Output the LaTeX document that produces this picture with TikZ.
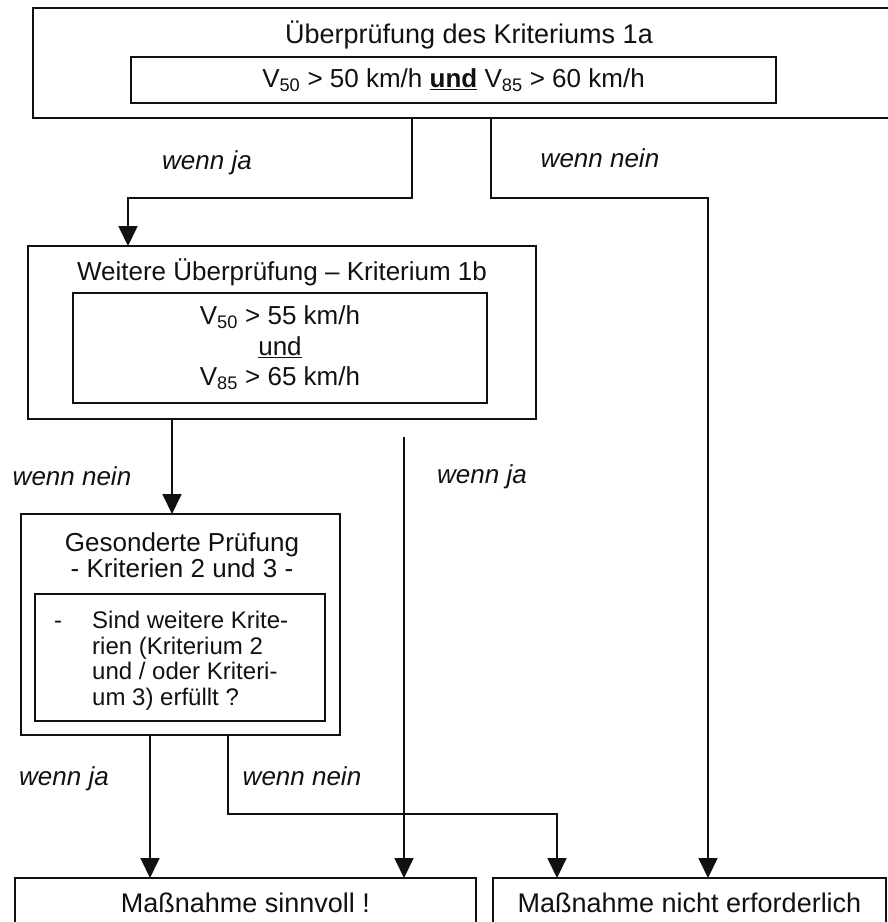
\documentclass[tikz,border=0pt]{standalone}
\usepackage{fontspec}
\setmainfont{Liberation Sans}
\usetikzlibrary{arrows.meta,positioning}
\definecolor{ink}{HTML}{111111}
\tikzset{
  >={Triangle[width=19pt,length=20pt]},
  every node/.style={text=ink},
  boxframe/.style={draw=ink,line width=1.4pt,inner sep=0pt,outer sep=0pt},
  outerbox/.style={boxframe},
  innerbox/.style={boxframe,align=center,font=\fontsize{26}{30.5}\selectfont},
  headtext/.style={align=center,inner sep=0pt,font=\fontsize{26}{26}\selectfont},
  endbox/.style={boxframe,font=\fontsize{27}{30}\selectfont},
  flow/.style={->,line width=1.8pt,draw=ink},
  branch/.style={font=\itshape\fontsize{26}{30}\selectfont,inner sep=0pt},
}

\begin{document}
\begin{tikzpicture}[x=1pt,y=-1pt]
\useasboundingbox (0,0) rectangle (888,922);
\clip (0,0) rectangle (888,922);

\node[outerbox,minimum width=862,minimum height=110] (crit1a) at (464,63) {};
\node[headtext,font=\fontsize{27}{30}\selectfont] (crit1ahead) at (469,35) {Überprüfung des Kriteriums 1a};
\node[innerbox,minimum width=645,minimum height=46] (crit1acond) at (453.5,80) {V\textsubscript{50} > 50 km/h \underline{\textbf{und}} V\textsubscript{85} > 60 km/h};

\node[outerbox,minimum width=508,minimum height=173] (crit1b) at (282,332.5) {};
\node[headtext] (crit1bhead) at (282,272) {Weitere Überprüfung – Kriterium 1b};
\node[innerbox,minimum width=414,minimum height=110] (crit1bcond) at (280,348) {V\textsubscript{50} > 55 km/h\\\underline{und}\\V\textsubscript{85} > 65 km/h};

\node[outerbox,minimum width=319,minimum height=221] (crit23) at (180.5,624.5) {};
\node[headtext] (crit23head) at (182,555) {Gesonderte Prüfung\\- Kriterien 2 und 3 -};
\node[innerbox,minimum width=290,minimum height=127] (crit23cond) at (180,657.5) {};
\node[anchor=west,inner sep=0pt,font=\fontsize{24}{25.5}\selectfont] (crit23text) at (54,662)
  {\begin{tabular}{@{}l@{\hspace{30pt}}l@{}}-&Sind weitere Krite-\\&rien (Kriterium 2\\&und / oder Kriteri-\\&um 3) erfüllt ?\end{tabular}};

\node[endbox,minimum width=461,minimum height=50] (worth) at (245.5,903) {Maßnahme sinnvoll !};
\node[endbox,minimum width=393,minimum height=50] (notneeded) at (689.5,903) {Maßnahme nicht erforderlich};

\coordinate (jaTopR) at (412,198);
\coordinate (jaTopL) at (128,198);
\coordinate (neinTopL) at (491,198);
\coordinate (neinTopR) at (708,198);
\coordinate (neinMid) at (172,470);
\coordinate (jaMid) at (404,470);
\coordinate (jaLow) at (150,800);
\coordinate (neinLowL) at (228,814);
\coordinate (neinLowR) at (557,814);

\draw[flow] (crit1a.south -| jaTopR) -- (jaTopR) -- (jaTopL) -- (crit1b.north -| jaTopL);
\draw[flow] (crit1a.south -| neinTopL) -- (neinTopL) -- (neinTopR) -- (notneeded.north -| neinTopR);
\draw[flow] (crit1b.south -| neinMid) -- (crit23.north -| neinMid);
\draw[flow,shorten <=18pt] (crit1b.south -| jaMid) -- (worth.north -| jaMid);
\draw[flow] (crit23.south -| jaLow) -- (worth.north -| jaLow);
\draw[flow] (crit23.south -| neinLowL) -- (neinLowL) -- (neinLowR) -- (notneeded.north -| neinLowR);

\node[branch] (lblja1) at (207,163) {wenn ja};
\node[branch] (lblnein1) at (600,158) {wenn nein};
\node[branch] (lblnein2) at (72,476) {wenn nein};
\node[branch] (lblja2) at (482,477) {wenn ja};
\node[branch] (lblja3) at (64,779) {wenn ja};
\node[branch] (lblnein3) at (302,776) {wenn nein};

\end{tikzpicture}
\end{document}
